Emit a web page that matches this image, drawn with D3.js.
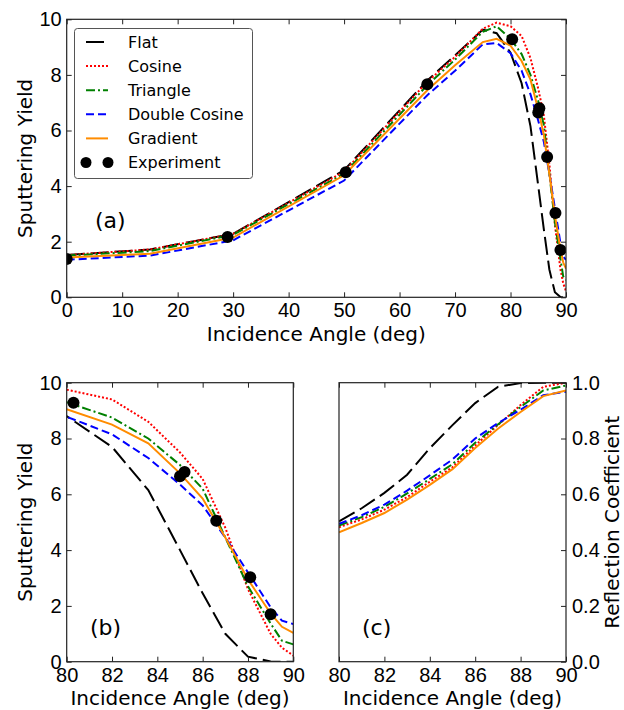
<!DOCTYPE html>
<html>
<head>
<meta charset="utf-8">
<script src="https://cdn.jsdelivr.net/npm/d3@7"></script>
<style>
body { margin: 0; background: #fff; }
svg { display: block; font-family: "DejaVu Sans", sans-serif; }
.axis text { font-size: 20px; fill: #000; }
.axis path { display: none; }
.axis line { stroke: #222; stroke-width: 1; }
</style>
</head>
<body>
<svg width="624" height="710"></svg>
<script>
// sputtering yield vs incidence angle
var angles = [0, 15, 30, 50, 65, 70, 75, 77.5, 80, 82, 83.6, 85, 86, 87, 88, 89, 89.5, 90];
var flatYield     = [1.52, 1.72, 2.28, 4.57, 7.80, 8.70, 9.63, 9.50, 8.80, 7.70, 6.15, 4.00, 2.45, 1.00, 0.18, 0.01, 0, 0];
var cosineYield   = [1.52, 1.72, 2.28, 4.52, 7.75, 8.65, 9.66, 9.88, 9.75, 9.40, 8.60, 7.50, 6.55, 4.80, 2.60, 1.00, 0.50, 0.22];
var triangleYield = [1.50, 1.66, 2.25, 4.45, 7.63, 8.55, 9.55, 9.75, 9.30, 8.75, 8.00, 7.05, 6.20, 4.45, 2.70, 1.37, 0.75, 0.62];
var dcosYield     = [1.35, 1.50, 2.05, 4.20, 7.27, 8.15, 9.10, 9.15, 8.78, 8.15, 7.30, 6.35, 5.60, 4.45, 3.20, 1.95, 1.47, 1.35];
var gradYield     = [1.43, 1.57, 2.15, 4.39, 7.45, 8.35, 9.18, 9.30, 9.05, 8.50, 7.83, 6.75, 5.85, 4.45, 2.95, 1.73, 1.25, 1.03];

var expAngles = [0, 29, 50.3, 65, 80.3, 85, 85.2, 86.6, 88.1, 89];
var expYield  = [1.38, 2.17, 4.5, 7.66, 9.28, 6.65, 6.8, 5.05, 3.03, 1.7];

// reflection coefficient, 80-90 deg
var reflAngles = [80, 81, 82, 83, 84, 85, 86, 87, 88, 89, 90];
var flatRefl     = [0.503, 0.550, 0.605, 0.670, 0.765, 0.848, 0.927, 0.985, 0.999, 1.0, 1.0];
var cosineRefl   = [0.482, 0.510, 0.545, 0.590, 0.645, 0.697, 0.775, 0.848, 0.920, 0.985, 1.0];
var triangleRefl = [0.488, 0.518, 0.555, 0.603, 0.655, 0.708, 0.785, 0.850, 0.913, 0.972, 0.990];
var dcosRefl     = [0.494, 0.525, 0.563, 0.613, 0.668, 0.725, 0.800, 0.855, 0.903, 0.955, 0.968];
var gradRefl     = [0.464, 0.497, 0.533, 0.581, 0.634, 0.690, 0.766, 0.835, 0.895, 0.952, 0.972];

var names  = ["Flat", "Cosine", "Triangle", "Double Cosine", "Gradient"];
var colors = ["#000000", "#ff0000", "#008000", "#0000ff", "#ff8c00"];
var dashes = ["18,6", "2,2", "9,3,2,3", "8,4", null];

var yieldSeries = [flatYield, cosineYield, triangleYield, dcosYield, gradYield];
var reflSeries  = [flatRefl, cosineRefl, triangleRefl, dcosRefl, gradRefl];

var xTicksA = [0, 10, 20, 30, 40, 50, 60, 70, 80, 90];
var xTicksB = [80, 82, 84, 86, 88, 90];
var yTicksYield = [0, 2, 4, 6, 8, 10];
var yTicksRefl  = [0, 0.2, 0.4, 0.6, 0.8, 1.0];

var svg = d3.select('svg');

function drawPanel(p) {
  var x = d3.scaleLinear().domain(p.xDomain).range([p.left, p.right]);
  var y = d3.scaleLinear().domain(p.yDomain).range([p.bottom, p.top]);
  var g = svg.append('g');

  g.append('clipPath').attr('id', 'clip-' + p.id)
    .append('rect')
      .attr('x', p.left).attr('y', p.top)
      .attr('width', p.right - p.left).attr('height', p.bottom - p.top);

  var plot = g.append('g').attr('clip-path', 'url(#clip-' + p.id + ')');

  p.series.forEach((s, i) => {
    var line = d3.line()
      .x((d, j) => x(p.xs[j]))
      .y(d => y(d));
    plot.append('path')
      .datum(s)
        .attr('d', line)
        .style('fill', 'none')
        .style('stroke', colors[i])
        .style('stroke-width', 2)
        .style('stroke-dasharray', dashes[i]);
  });

  if (p.exp) {
    plot.selectAll('circle')
      .data(expAngles)
      .enter()
      .append('circle')
        .attr('cx', d => x(d))
        .attr('cy', (d, i) => y(expYield[i]))
        .attr('r', 6)
        .style('fill', '#000');
  }

  // ticks point inward, on the sides the original shows them
  g.append('g').attr('class', 'axis')
    .attr('transform', 'translate(0,' + p.bottom + ')')
    .call(d3.axisBottom(x).tickValues(p.xTicks).tickSizeInner(-5).tickSizeOuter(0).tickPadding(6));
  g.append('g').attr('class', 'axis')
    .attr('transform', 'translate(0,' + p.top + ')')
    .call(d3.axisTop(x).tickValues(p.xTicks).tickSizeInner(-5).tickSizeOuter(0).tickFormat(''));

  var yl = d3.axisLeft(y).tickValues(p.yTicks).tickSizeInner(-5).tickSizeOuter(0).tickPadding(5);
  var yr = d3.axisRight(y).tickValues(p.yTicks).tickSizeInner(-5).tickSizeOuter(0).tickPadding(6);
  if (p.yFormat) { yl.tickFormat(p.yFormat); yr.tickFormat(p.yFormat); }

  if (p.leftTicks) {
    g.append('g').attr('class', 'axis')
      .attr('transform', 'translate(' + p.left + ',0)')
      .call(p.leftLabels ? yl : yl.tickFormat(''));
  }
  if (p.rightTicks) {
    g.append('g').attr('class', 'axis')
      .attr('transform', 'translate(' + p.right + ',0)')
      .call(p.rightLabels ? yr : yr.tickFormat(''));
  }

  g.append('rect')
    .attr('x', p.left).attr('y', p.top)
    .attr('width', p.right - p.left).attr('height', p.bottom - p.top)
    .style('fill', 'none')
    .style('stroke', '#222')
    .style('stroke-width', 1.2);

  g.append('text')
    .attr('x', (p.left + p.right) / 2)
    .attr('y', p.bottom + 43.5)
    .attr('text-anchor', 'middle')
    .style('font-size', '20px')
    .text('Incidence Angle (deg)');

  g.append('text')
    .attr('transform', 'translate(' + p.yLabelX + ',' + (p.top + p.bottom) / 2 + ') rotate(-90)')
    .attr('text-anchor', 'middle')
    .attr('dy', '0.35em')
    .style('font-size', '20px')
    .text(p.yLabel);

  g.append('text')
    .attr('x', p.tagX)
    .attr('y', p.tagY)
    .attr('dy', '0.35em')
    .style('font-size', '22px')
    .text(p.tag);

  return g;
}

var gA = drawPanel({
  id: 'a', left: 66.7, right: 566, top: 19.3, bottom: 297.3,
  xDomain: [0, 90], yDomain: [0, 10], xs: angles, series: yieldSeries,
  xTicks: xTicksA, yTicks: yTicksYield, exp: true,
  leftTicks: true, leftLabels: true, rightTicks: true, rightLabels: false,
  yLabel: 'Sputtering Yield', yLabelX: 25, tag: '(a)', tagX: 95, tagY: 220
});

drawPanel({
  id: 'b', left: 66.7, right: 293.3, top: 382.7, bottom: 661.7,
  xDomain: [80, 90], yDomain: [0, 10], xs: angles, series: yieldSeries,
  xTicks: xTicksB, yTicks: yTicksYield, exp: true,
  leftTicks: true, leftLabels: true, rightTicks: false,
  yLabel: 'Sputtering Yield', yLabelX: 25, tag: '(b)', tagX: 90, tagY: 627
});

drawPanel({
  id: 'c', left: 339, right: 566, top: 382.7, bottom: 661.7,
  xDomain: [80, 90], yDomain: [0, 1], xs: reflAngles, series: reflSeries,
  xTicks: xTicksB, yTicks: yTicksRefl, exp: false, yFormat: d3.format('.1f'),
  leftTicks: false, rightTicks: true, rightLabels: true,
  yLabel: 'Reflection Coefficient', yLabelX: 612, tag: '(c)', tagX: 362, tagY: 627
});

// legend in panel (a)
var legend = gA.append('g');
legend.append('rect')
  .attr('x', 74.5).attr('y', 28.5)
  .attr('width', 178).attr('height', 150)
  .attr('rx', 3)
  .style('fill', '#fff')
  .style('stroke', '#555')
  .style('stroke-width', 1);

var legendNames = names.concat(['Experiment']);
var rows = legend.selectAll('g.row')
  .data(legendNames)
  .enter()
  .append('g')
    .attr('class', 'row')
    .attr('transform', (d, i) => 'translate(0,' + (42 + i * 24.1) + ')');

rows.filter((d, i) => i < names.length)
  .append('line')
    .attr('x1', 86).attr('x2', 108)
    .style('stroke', (d, i) => colors[i])
    .style('stroke-width', 2)
    .style('stroke-dasharray', (d, i) => dashes[i]);

rows.filter((d, i) => i === names.length)
  .selectAll('circle')
  .data([86, 108])
  .enter()
  .append('circle')
    .attr('cx', d => d)
    .attr('r', 5.5)
    .style('fill', '#000');

rows.append('text')
  .attr('x', 128)
  .attr('dy', '0.35em')
  .style('font-size', '16px')
  .text(d => d);
</script>
</body>
</html>
